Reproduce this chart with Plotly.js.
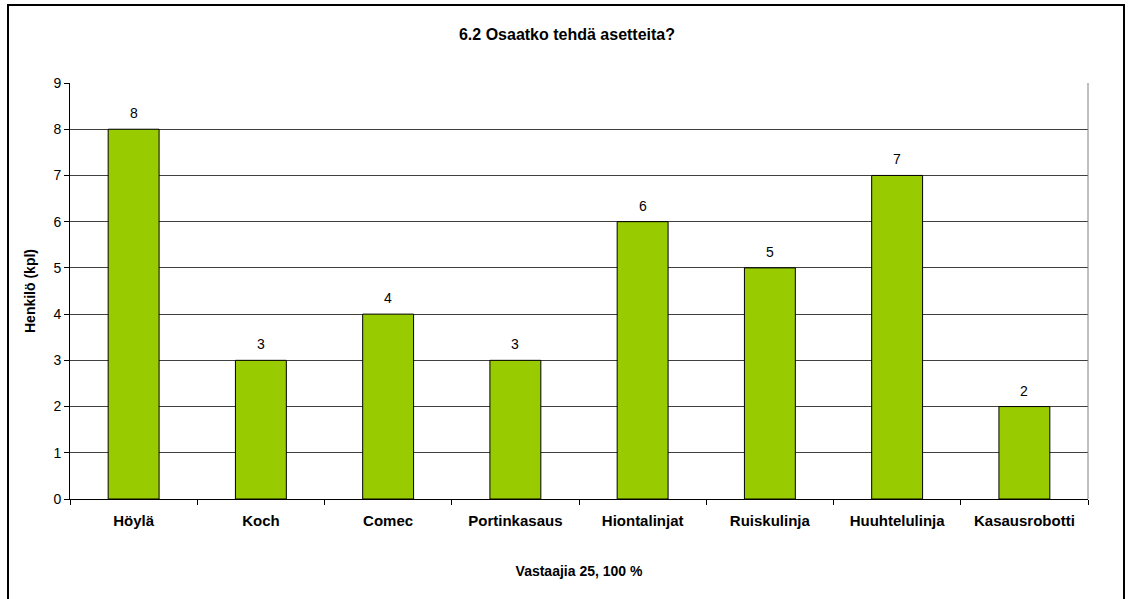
<!DOCTYPE html>
<html>
<head>
<meta charset="utf-8">
<script src="https://cdn.plot.ly/plotly-3.0.1.min.js"></script>
<style>html,body{margin:0;padding:0;background:#fff;}#chart{width:1129px;height:599px;}</style>
</head>
<body>
<div id="chart"></div>
<script>
const categories = ["Höylä", "Koch", "Comec", "Portinkasaus", "Hiontalinjat", "Ruiskulinja", "Huuhtelulinja", "Kasausrobotti"];
const values = [8, 3, 4, 3, 6, 5, 7, 2];
const yTicks = [0, 1, 2, 3, 4, 5, 6, 7, 8, 9];

const W = 1129, H = 599;
const m = {l: 70, r: 41, t: 83, b: 100};
const pw = W - m.l - m.r, ph = H - m.t - m.b;
const px = x => (x - m.l) / pw;
const py = y => (H - m.b - y) / ph;
const FONT = 'Liberation Sans, Arial, sans-serif';

const trace = {
  type: 'bar',
  x: categories,
  y: values,
  marker: {color: '#99CC00', line: {color: '#000', width: 1}},
  hoverinfo: 'none'
};

const labels = categories.map((c, i) => ({
  x: c, y: values[i], xref: 'x', yref: 'y',
  text: String(values[i]), showarrow: false,
  yanchor: 'bottom', yshift: 6,
  font: {family: FONT, size: 14, color: '#000'}
}));

const layout = {
  width: W, height: H,
  margin: m,
  paper_bgcolor: '#fff', plot_bgcolor: '#fff',
  font: {family: FONT, color: '#000'},
  bargap: 0.6,
  showlegend: false,
  title: {text: '<b>6.2 Osaatko tehdä asetteita?</b>', font: {size: 16, color: '#000'}, x: px(567), xref: 'paper', xanchor: 'center', y: 1 - 34 / H, yanchor: 'middle'},
  xaxis: {
    type: 'category',
    tickson: 'boundaries',
    ticks: 'outside', ticklen: 5, tickcolor: '#000',
    showline: true, linecolor: '#000', linewidth: 1,
    showgrid: false, zeroline: false,
    tickfont: {size: 15, color: '#000', weight: 'bold'},
    ticklabelstandoff: 8,
    title: {text: '<b>Vastaajia 25, 100 %</b>', font: {size: 14, color: '#000'}, standoff: 38}
  },
  yaxis: {
    range: [0, 9],
    tickvals: yTicks,
    ticktext: yTicks.map(String),
    ticks: 'outside', ticklen: 5, tickcolor: '#000',
    showline: true, linecolor: '#000', linewidth: 1,
    showgrid: true, gridcolor: '#404040', gridwidth: 1,
    zeroline: false,
    tickfont: {size: 14, color: '#000'},
    title: {text: '<b>Henkilö (kpl)</b>', font: {size: 14, color: '#000'}, standoff: 14}
  },
  annotations: labels,
  shapes: [
    {type: 'rect', xref: 'paper', yref: 'paper', x0: px(8), x1: px(1124), y0: py(H + 10), y1: py(5), line: {color: '#000', width: 2}, fillcolor: 'rgba(0,0,0,0)', layer: 'below'},
    {type: 'line', xref: 'paper', yref: 'paper', x0: 1, x1: 1, y0: 0, y1: 1, line: {color: '#808080', width: 1}}
  ]
};

Plotly.newPlot('chart', [trace], layout, {staticPlot: true, displayModeBar: false});
</script>
</body>
</html>
